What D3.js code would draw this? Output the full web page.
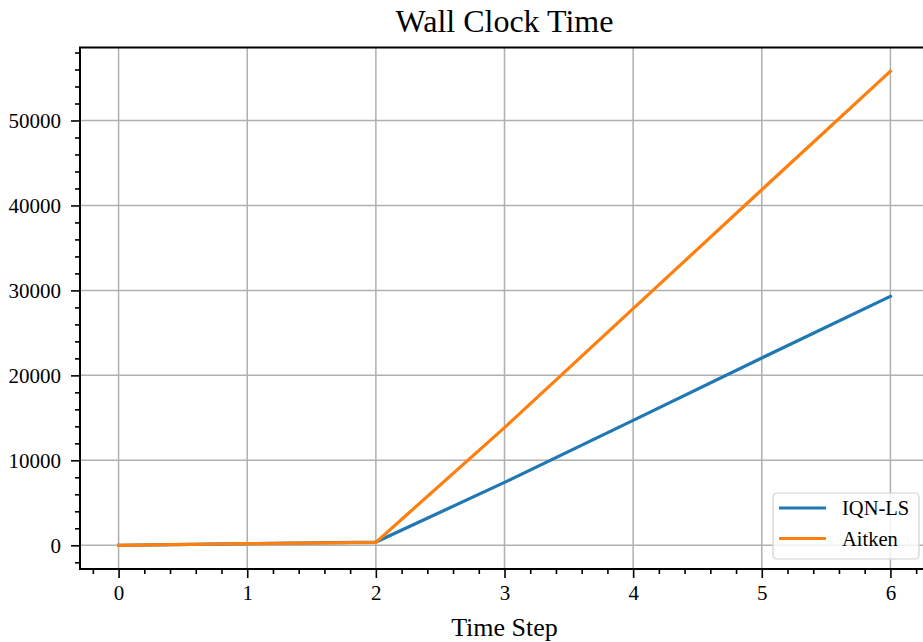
<!DOCTYPE html>
<html>
<head>
<meta charset="utf-8">
<script src="https://cdn.jsdelivr.net/npm/d3@7"></script>
<style>
  body { margin: 0; background: #fff; }
  svg { display: block; font-family: "Liberation Serif", "DejaVu Serif", serif; }
</style>
</head>
<body>
<div id="chart"></div>
<script>
// data
var steps = [0, 1, 2, 3, 4, 5, 6];
var iqnls = [0, 200, 380, 7400, 14700, 22050, 29300];
var aitken = [0, 190, 350, 13850, 27850, 41850, 55800];
var seriesNames = ['IQN-LS', 'Aitken'];
var colors = ['#1f77b4', '#ff7f0e'];
var xTicks = [0, 1, 2, 3, 4, 5, 6];
var yTicks = [0, 10000, 20000, 30000, 40000, 50000];

var width = 923, height = 642;
var margin = { left: 80, top: 47.5, right: -6, bottom: 73 };

var svg = d3.select('#chart').append('svg')
    .attr('width', width)
    .attr('height', height);

var x = d3.scaleLinear()
    .domain([-0.3, 6.3])
    .range([margin.left, width - margin.right]);

var yMax = d3.max(aitken);
var pad = yMax * 0.05;
var y = d3.scaleLinear()
    .domain([-pad, yMax + pad])
    .range([height - margin.bottom, margin.top]);

svg.append('clipPath').attr('id', 'plot')
    .append('rect')
    .attr('x', x.range()[0]).attr('y', y.range()[1])
    .attr('width', x.range()[1] - x.range()[0])
    .attr('height', y.range()[0] - y.range()[1]);

// grid
var grid = svg.append('g').attr('clip-path', 'url(#plot)');
grid.selectAll('.gx').data(xTicks).enter().append('line')
    .attr('x1', function(d) { return x(d); })
    .attr('x2', function(d) { return x(d); })
    .attr('y1', y.range()[0]).attr('y2', y.range()[1])
    .attr('stroke', '#b0b0b0').attr('stroke-width', 1.5);
grid.selectAll('.gy').data(yTicks).enter().append('line')
    .attr('y1', function(d) { return y(d); })
    .attr('y2', function(d) { return y(d); })
    .attr('x1', x.range()[0]).attr('x2', x.range()[1])
    .attr('stroke', '#b0b0b0').attr('stroke-width', 1.5);

// lines
var line = d3.line()
    .x(function(d) { return x(d[0]); })
    .y(function(d) { return y(d[1]); });

var plot = svg.append('g').attr('clip-path', 'url(#plot)');
[iqnls, aitken].forEach(function(vals, i) {
    plot.append('path')
        .datum(steps.map(function(s, j) { return [s, vals[j]]; }))
        .attr('d', line)
        .attr('fill', 'none')
        .attr('stroke', colors[i])
        .attr('stroke-width', 3.2)
        .attr('stroke-linecap', 'square');
});

// axes
var xMinor = d3.range(-0.2, 6.3, 0.2).filter(function(d) {
    return Math.abs(d - Math.round(d)) > 0.01;
});
var yMinor = d3.range(-2000, yMax + pad, 2000).filter(function(d) { return d % 10000 !== 0; });

svg.append('g')
    .attr('transform', 'translate(0,' + y.range()[0] + ')')
    .call(d3.axisBottom(x).tickValues(xTicks).tickFormat(d3.format('d')).tickSize(9).tickPadding(7));
svg.append('g')
    .attr('transform', 'translate(0,' + y.range()[0] + ')')
    .call(d3.axisBottom(x).tickValues(xMinor).tickFormat('').tickSize(5));

svg.append('g')
    .attr('transform', 'translate(' + x.range()[0] + ',0)')
    .call(d3.axisLeft(y).tickValues(yTicks).tickFormat(d3.format('d')).tickSize(9).tickPadding(10));
svg.append('g')
    .attr('transform', 'translate(' + x.range()[0] + ',0)')
    .call(d3.axisLeft(y).tickValues(yMinor).tickFormat('').tickSize(5));

svg.selectAll('.tick line').attr('stroke', '#000').attr('stroke-width', 1.6);
svg.selectAll('.tick text')
    .attr('font-family', '"Liberation Serif", serif')
    .attr('font-size', 21)
    .attr('fill', '#000');
svg.selectAll('.domain').remove();

// spines
svg.append('rect')
    .attr('x', x.range()[0]).attr('y', y.range()[1])
    .attr('width', x.range()[1] - x.range()[0])
    .attr('height', y.range()[0] - y.range()[1])
    .attr('fill', 'none')
    .attr('stroke', '#000')
    .attr('stroke-width', 2);

// title and label
svg.append('text')
    .attr('x', (x.range()[0] + x.range()[1]) / 2)
    .attr('y', 32)
    .attr('text-anchor', 'middle')
    .attr('font-size', 32)
    .text('Wall Clock Time');

svg.append('text')
    .attr('x', (x.range()[0] + x.range()[1]) / 2)
    .attr('y', 636)
    .attr('text-anchor', 'middle')
    .attr('font-size', 26)
    .text('Time Step');

// legend
var legend = svg.append('g').attr('transform', 'translate(773,493)');
legend.append('rect')
    .attr('width', 146).attr('height', 66).attr('rx', 4)
    .attr('fill', '#fff').attr('fill-opacity', 0.8)
    .attr('stroke', '#d0d0d0').attr('stroke-width', 1.2);
seriesNames.forEach(function(name, i) {
    var ly = 15 + i * 30.5;
    legend.append('line')
        .attr('x1', 6).attr('x2', 53)
        .attr('y1', ly).attr('y2', ly)
        .attr('stroke', colors[i]).attr('stroke-width', 3.2);
    legend.append('text')
        .attr('x', 69).attr('y', ly + 7)
        .attr('font-size', 20.5)
        .text(name);
});
</script>
</body>
</html>
